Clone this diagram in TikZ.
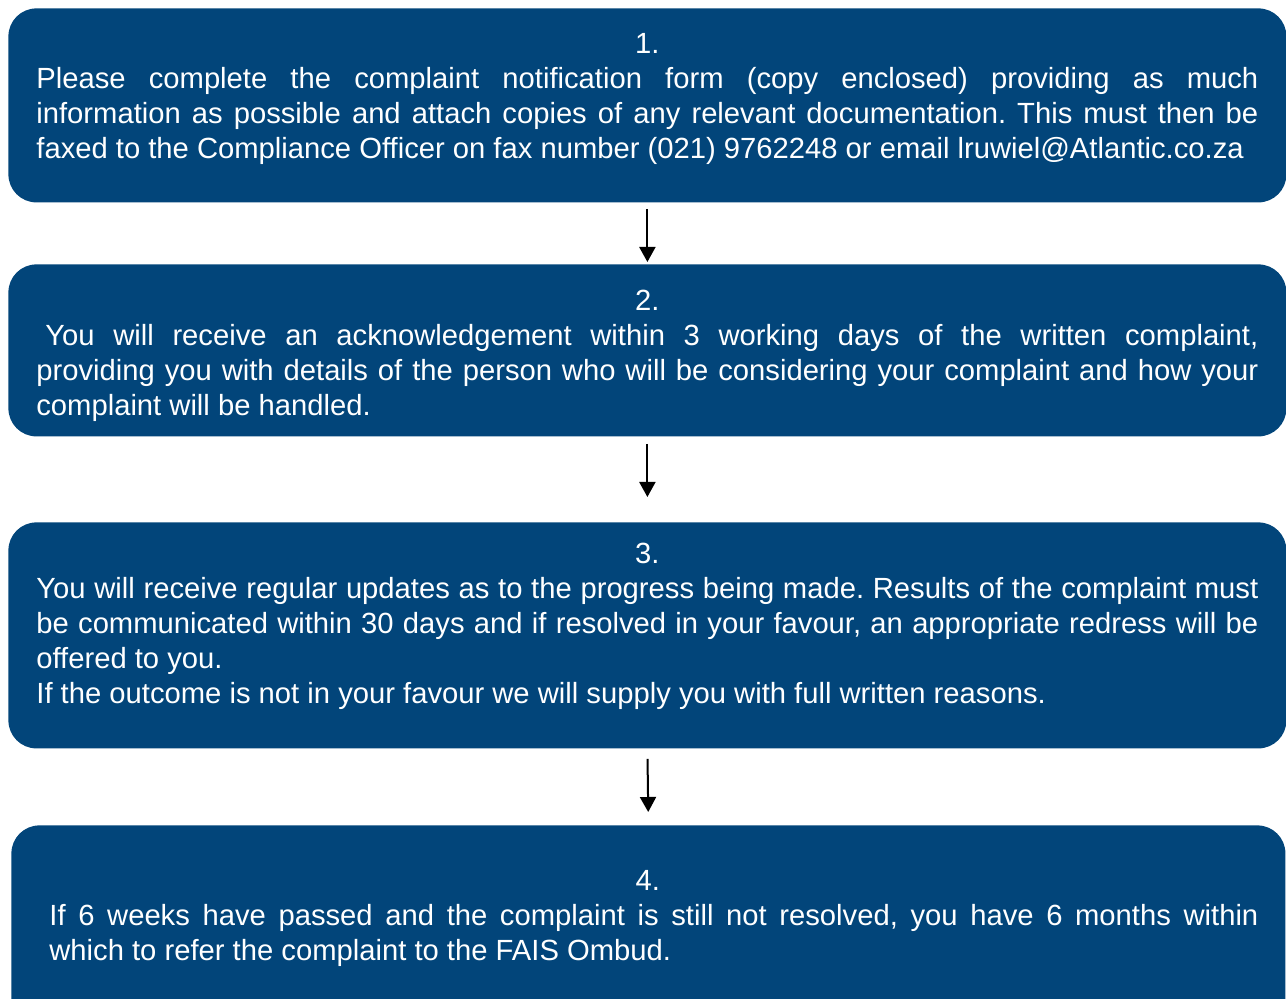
\documentclass[tikz,border=0pt]{standalone}
\usepackage{fontspec}
\setmainfont{Liberation Sans}
\usetikzlibrary{arrows.meta}
\definecolor{stepblue}{RGB}{2,69,122}
\tikzset{
  stepbox/.style={fill=stepblue, rounded corners=14pt, inner sep=0pt, anchor=north west},
  steptext/.style={text=white, anchor=north west, inner sep=0pt, align=justify,
    execute at begin node={\setlength{\parindent}{0pt}\frenchspacing},
    font=\fontsize{14.6pt}{17.5pt}\selectfont},
  flow/.style={-{Triangle[length=7.5pt,width=8pt]}, line width=1pt},
}

\begin{document}
\begin{tikzpicture}[x=0.5pt, y=-0.5pt]
\useasboundingbox (0,0) rectangle (1286,999);

% boxes of the four steps
\node[stepbox, minimum width=639pt, minimum height=97pt] (box1) at (8,8) {};
\node[stepbox, minimum width=639pt, minimum height=86pt] (box2) at (8,264) {};
\node[stepbox, minimum width=639pt, minimum height=113pt] (box3) at (8,522) {};
\node[stepbox, minimum width=637pt, minimum height=100pt] (box4) at (11,825) {};

% texts
\node[steptext, text width=611pt] (text1) at (36,33) {{\centering 1.\par}Please complete the complaint notification form (copy enclosed) providing as much\linebreak information as possible and attach copies of any relevant documentation. This must then be\linebreak faxed to the Compliance Officer on fax number (021) 9762248 or email lruwiel@Atlantic.co.za};
\node[steptext, text width=611pt] (text2) at (36,290) {{\centering 2.\par}\hspace*{4.5pt}You will receive an acknowledgement within 3 working days of the written complaint,\linebreak providing you with details of the person who will be considering your complaint and how your\linebreak complaint will be handled.};
\node[steptext, text width=611pt] (text3) at (36,543) {{\centering 3.\par}You will receive regular updates as to the progress being made. Results of the complaint must\linebreak be communicated within 30 days and if resolved in your favour, an appropriate redress will be\linebreak offered to you.\par If the outcome is not in your favour we will supply you with full written reasons.};
\node[steptext, text width=604.5pt] (text4) at (49,870) {{\centering\hspace*{-6pt}4.\par}If 6 weeks have passed and the complaint is still not resolved, you have 6 months within\linebreak which to refer the complaint to the FAIS Ombud.};

% arrows
\draw[flow, shorten <=3pt, shorten >=1pt] (box1.south) -- (box2.north);
\draw[flow, shorten <=3.5pt, shorten >=12.5pt] (box2.south) -- (box3.north);
\draw[flow, shorten <=5pt, shorten >=6.5pt] (box3.south) -- (box4.north);
\end{tikzpicture}
\end{document}
